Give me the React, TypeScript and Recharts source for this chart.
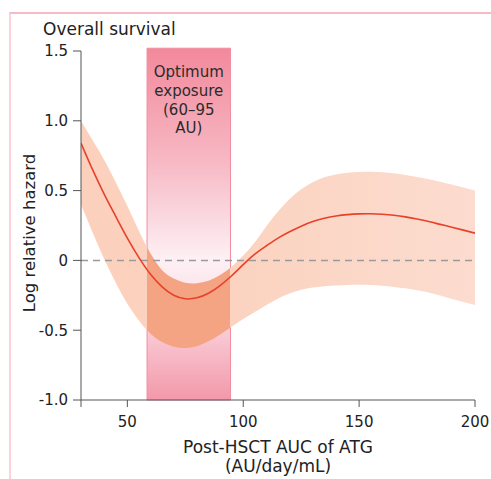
import React from 'react';
import { ComposedChart, Area, Line, XAxis, YAxis, ReferenceArea, ReferenceLine } from 'recharts';

// AUC of ATG (AU/day/mL)
const auc = [30, 35, 40, 45, 50, 55, 60, 65, 70, 75, 80, 85, 90, 95, 100, 105, 110, 115, 120, 125, 130, 135, 140, 145, 150, 155, 160, 165, 170, 175, 180, 185, 190, 195, 200];
// log relative hazard estimate
const estimate = [0.84, 0.65, 0.475, 0.315, 0.16, 0.02, -0.1, -0.19, -0.25, -0.275, -0.268, -0.235, -0.18, -0.11, -0.03, 0.045, 0.105, 0.16, 0.205, 0.245, 0.278, 0.302, 0.318, 0.328, 0.333, 0.334, 0.331, 0.324, 0.312, 0.296, 0.278, 0.258, 0.238, 0.217, 0.195];
// 95% CI
const upper = [1.0, 0.86, 0.72, 0.56, 0.39, 0.21, 0.05, -0.07, -0.13, -0.16, -0.163, -0.145, -0.105, -0.045, 0.035, 0.13, 0.245, 0.35, 0.44, 0.51, 0.56, 0.595, 0.615, 0.628, 0.634, 0.635, 0.632, 0.624, 0.612, 0.598, 0.582, 0.563, 0.543, 0.522, 0.5];
const lower = [0.4, 0.2, 0.01, -0.16, -0.31, -0.43, -0.525, -0.585, -0.618, -0.628, -0.615, -0.58, -0.53, -0.475, -0.42, -0.37, -0.32, -0.273, -0.237, -0.21, -0.195, -0.185, -0.179, -0.176, -0.175, -0.177, -0.182, -0.19, -0.2, -0.214, -0.23, -0.252, -0.276, -0.298, -0.32];

const xTicks = [30, 50, 100, 150, 200];
const yTicks = [-1, -0.5, 0, 0.5, 1, 1.5];
const yTickLabels = ['-1.0', '-0.5', '0', '0.5', '1.0', '1.5'];

// optimum exposure window as drawn
const optimumFrom = 58.5;
const optimumTo = 94.5;
const optimumLines = ['Optimum', 'exposure', '(60–95', 'AU)'];

const X_MIN = 30;
const X_MAX = 200;

const data = auc.map((x, i) => ({ x, est: estimate[i], ci: [lower[i], upper[i]] }));

const FONT = '"DejaVu Sans", sans-serif';

// horizontal stops for the band fill (bbox of the band = full x range)
const o1 = (optimumFrom - X_MIN) / (X_MAX - X_MIN);
const o2 = (optimumTo - X_MIN) / (X_MAX - X_MIN);

const OptimumLabel = (props: any) => {
  const { x, y, width } = props.viewBox;
  const cx = x + width / 2;
  return (
    <text x={cx} y={y} textAnchor="middle" fontFamily={FONT} fontSize={15} fill="#2b2b2b">
      {optimumLines.map((t, i) => (
        <tspan key={t} x={cx} y={y + 29 + i * 18.7}>{t}</tspan>
      ))}
    </text>
  );
};

export default function App() {
  return (
    <div style={{ position: 'absolute', left: 0, top: 0, width: 491, height: 479, background: '#fff', fontFamily: FONT }}>
      <div style={{ position: 'absolute', left: 9, top: 12, width: 482, height: 467, borderTop: '2px solid #f7bac5', borderLeft: '2px solid #fbd3da', boxSizing: 'border-box' }} />
      <ComposedChart width={491} height={479} data={data} margin={{ top: 51, right: 16, bottom: 0, left: 0 }} style={{ position: 'absolute', left: 0, top: 0 }}>
        <defs>
          <linearGradient id="optGrad" x1="0" y1="0" x2="0" y2="1">
            <stop offset="0" stopColor="#f2899b" />
            <stop offset="0.32" stopColor="#f7b8c4" />
            <stop offset="0.6" stopColor="#fdf0f4" />
            <stop offset="0.72" stopColor="#fbe1e8" />
            <stop offset="1" stopColor="#f398aa" />
          </linearGradient>
          <linearGradient id="bandGrad" x1="0" y1="0" x2="1" y2="0">
            <stop offset="0" stopColor="#fbd1bd" />
            <stop offset={o1} stopColor="#fbd2bf" />
            <stop offset={o1} stopColor="#f4a383" />
            <stop offset={o2} stopColor="#f4a383" />
            <stop offset={o2} stopColor="#fbd3c0" />
            <stop offset="1" stopColor="#fcdccf" />
          </linearGradient>
        </defs>
        <XAxis
          type="number"
          dataKey="x"
          domain={[X_MIN, X_MAX]}
          ticks={xTicks}
          tickFormatter={(v: number) => (v === X_MIN ? '' : String(v))}
          height={79}
          tickSize={7}
          tickMargin={9}
          stroke="#555"
          tick={{ fill: '#222', fontSize: 15, fontFamily: FONT }}
          allowDataOverflow
        />
        <YAxis
          type="number"
          domain={[-1, 1.5]}
          ticks={yTicks}
          tickFormatter={(v: number) => yTickLabels[yTicks.indexOf(v)]}
          width={81}
          tickSize={8}
          tickMargin={5}
          stroke="#555"
          tick={{ fill: '#222', fontSize: 15, fontFamily: FONT }}
          allowDataOverflow
        />
        <ReferenceArea
          x1={optimumFrom}
          x2={optimumTo}
          y1={-1}
          y2={1.52}
          ifOverflow="visible"
          fill="url(#optGrad)"
          fillOpacity={1}
          stroke="#f28da1"
          strokeWidth={1}
          label={OptimumLabel}
        />
        <Area
          type="natural"
          dataKey="ci"
          stroke="none"
          fill="url(#bandGrad)"
          fillOpacity={1}
          isAnimationActive={false}
          activeDot={false}
        />
        <ReferenceLine y={0} stroke="#9a9a9a" strokeWidth={1.5} strokeDasharray="7 5" />
        <Line
          type="natural"
          dataKey="est"
          stroke="#e8412a"
          strokeWidth={1.6}
          dot={false}
          activeDot={false}
          isAnimationActive={false}
        />
      </ComposedChart>
      <svg width={491} height={479} style={{ position: 'absolute', left: 0, top: 0, pointerEvents: 'none' }}>
        <text x={43} y={35} fontFamily={FONT} fontSize={17} fill="#222">Overall survival</text>
        <text x={35} y={233} transform="rotate(-90 35 233)" textAnchor="middle" fontFamily={FONT} fontSize={16.5} fill="#222">Log relative hazard</text>
        <text x={278} y={453} textAnchor="middle" fontFamily={FONT} fontSize={17} fill="#222">Post-HSCT AUC of ATG</text>
        <text x={278} y={472} textAnchor="middle" fontFamily={FONT} fontSize={17} fill="#222">(AU/day/mL)</text>
      </svg>
    </div>
  );
}
